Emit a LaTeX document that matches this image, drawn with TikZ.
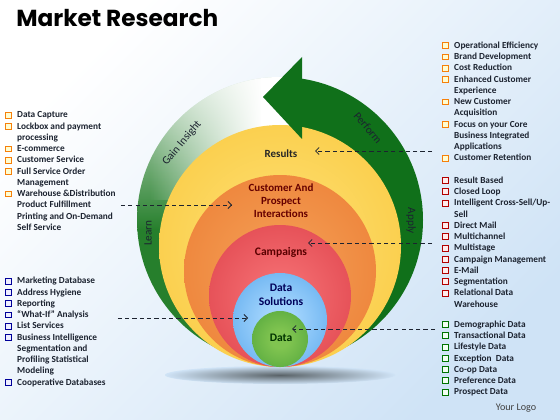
\documentclass[tikz,border=0pt]{standalone}
\usepackage{fontspec}
\setmainfont{Carlito}
\newfontfamily\titlefont{Poppins}
\usepackage{tikz}
\usetikzlibrary{arrows.meta, calc, fadings}

\definecolor{bgblue}{HTML}{CFE3F6}
\definecolor{txt}{HTML}{1C2330}
\definecolor{ringdark}{HTML}{10701A}
\definecolor{ringgreen}{HTML}{267F2C}
\definecolor{shadowc}{HTML}{5A6368}
\definecolor{yin}{HTML}{FDDC6A}\definecolor{yout}{HTML}{F7BE28}
\definecolor{oin}{HTML}{F39A50}\definecolor{oout}{HTML}{E86E26}
\definecolor{rin}{HTML}{F26A6E}\definecolor{rout}{HTML}{D52F3A}
\definecolor{bin}{HTML}{A2D4FD}\definecolor{bout}{HTML}{3894E4}
\definecolor{gin}{HTML}{80C450}\definecolor{gout}{HTML}{3A9632}
\colorlet{ballin}{white}\colorlet{ballout}{white}
\pgfdeclareradialshading[ballin,ballout]{ball}{\pgfpoint{0bp}{0bp}}{color(0bp)=(ballin); color(8bp)=(ballin); color(50bp)=(ballout)}
\tikzfading[name=ringfade, left color=transparent!100, right color=transparent!0]

% small square bullets
\newcommand\bx[2]{{\setlength{\fboxsep}{0pt}\setlength{\fboxrule}{0.4pt}\raisebox{0.1pt}{\fcolorbox{#1}{#2}{\rule{0pt}{3.8pt}\rule{3.8pt}{0pt}}}}\hspace{3.9pt}}
\newcommand\ind{\hspace*{8.5pt}}
\newcommand\bo{\bx{orange!85!brown}{yellow!18}}
\newcommand\br{\bx{red!70!black}{red!8}}
\newcommand\bg{\bx{green!45!black}{green!5}}
\newcommand\bb{\bx{blue!60!black}{blue!7}}

\begin{document}
\begin{tikzpicture}[x=0.025cm, y=-0.025cm,
  lst/.style={anchor=north west, inner sep=0pt, align=left, text=txt,
    font=\bfseries\fontsize{6.6}{8}\selectfont},
  lab/.style={inner sep=1pt, align=center, font=\bfseries\fontsize{7.8}{9.3}\selectfont},
  ringlab/.style={inner sep=0pt, text=txt, font=\fontsize{8}{9}\selectfont},
  ball/.style 2 args={/utils/exec={\colorlet{ballin}{#1}\colorlet{ballout}{#2}}, shading=ball},
  dl/.style={draw=txt, line width=0.6pt, dash pattern=on 3pt off 2.2pt,
    -{Straight Barb[length=2.5pt,width=5pt]}}]

  \useasboundingbox (0,0) rectangle (560,420);
  \shade[top color=white, bottom color=bgblue, shading angle=45] (0,0) rectangle (560,420);

  % ring behind the circles
  \begin{scope}
    \clip (280,220) circle[radius=143];
    \shade[top color=white, bottom color=ringgreen] (130,40) rectangle (302,230);
    \fill[ringgreen] (130,229) rectangle (302,370);
    \fill[white, path fading=ringfade] (150,60) rectangle (262,200);
    \fill[white] (261,60) rectangle (302,200);
    \fill[ringdark] (302,60) rectangle (430,370);
  \end{scope}
  \shade[inner color=shadowc, outer color=bgblue] (280,375) ellipse[x radius=115, y radius=9];

  \shade[ball={yin}{yout}] (280,246) circle[radius=121];
  \fill[ringdark] (302,57) -- (263,97) -- (302,139) -- cycle;
  \shade[ball={oin}{oout}] (280,271) circle[radius=96];
  \shade[ball={rin}{rout}] (280,296) circle[radius=71];
  \shade[ball={bin}{bout}] (280,320) circle[radius=47];
  \shade[ball={gin}{gout}] (280,339) circle[radius=28];

  \node[font=\titlefont\bfseries\fontsize{16.5}{19}\selectfont, anchor=west, inner sep=0pt] (title) at (16,18) {Market Research};

  \node[lab, text=black!85] (res) at (281,154) {Results};
  \node[lab, text=red!40!black] (cust) at (281,201) {Customer And\\Prospect\\Interactions};
  \node[lab, text=red!35!black, font=\bfseries\fontsize{8.2}{10}\selectfont] (camp) at (281,252) {Campaigns};
  \node[lab, text=blue!35!black, font=\bfseries\fontsize{8.2}{10}\selectfont] (dsol) at (281,295) {Data\\Solutions};
  \node[lab, text=green!20!black, font=\bfseries\fontsize{8.2}{10}\selectfont] (dat) at (281,338) {Data};

  \node[ringlab, rotate=50] (gain) at (182,143) {Gain Insight};
  \node[ringlab, rotate=-50] (perf) at (368,128) {Perform};
  \node[ringlab, rotate=-90] (apply) at (411,221) {Apply};
  \node[ringlab, rotate=90] (learn) at (148,233) {Learn};

  \node[lst] (ltop) at (5,111.5) {\bo Data Capture\\
    \bo Lockbox and payment\\ \ind processing\\
    \bo E-commerce\\ \bo Customer Service\\
    \bo Full Service Order\\ \ind Management\\
    \bo Warehouse \&Distribution\\ \ind Product Fulfillment\\
    \ind Printing and On-Demand\\ \ind Self Service};
  \node[lst] (lbot) at (5,277) {\bb Marketing Database\\ \bb Address Hygiene\\
    \bb Reporting\\ \bb ``What-If'' Analysis\\ \bb List Services\\
    \bb Business Intelligence\\ \ind Segmentation and\\
    \ind Profiling Statistical\\ \ind Modeling\\ \bb Cooperative Databases};
  \node[lst] (rtop) at (442,41.5) {\bo Operational Efficiency\\ \bo Brand Development\\
    \bo Cost Reduction\\ \bo Enhanced Customer\\ \ind Experience\\
    \bo New Customer\\ \ind Acquisition\\ \bo Focus on your Core\\
    \ind Business Integrated\\ \ind Applications\\ \bo Customer Retention};
  \node[lst] (rmid) at (442,176.5) {\br Result Based\\ \br Closed Loop\\
    \br Intelligent Cross-Sell/Up-\\ \ind Sell\\ \br Direct Mail\\
    \br Multichannel\\ \br Multistage\\ \br Campaign Management\\
    \br E-Mail\\ \br Segmentation\\ \br Relational Data\\ \ind Warehouse};
  \node[lst] (rbot) at (442,320.5) {\bg Demographic Data\\ \bg Transactional Data\\
    \bg Lifestyle Data\\ \bg Exception~ Data\\ \bg Co-op Data\\
    \bg Preference Data\\ \bg Prospect Data};
  \node[text=black!75, font=\fontsize{7.2}{8}\selectfont] (logo) at (516,408) {Your Logo};

  \coordinate (t1) at (315,151);
  \coordinate (t2) at (232,205);
  \coordinate (t3) at (308,243);
  \coordinate (t4) at (248,318);
  \coordinate (t5) at (292,329);

  \path
   ($(rtop.west |- t1)+(-10,0)$) edge[dl] (t1)
   ($(ltop.east |- t2)+(5,0)$) edge[dl] (t2)
   ($(rmid.west |- t3)+(-10,0)$) edge[dl] (t3)
   ($(lbot.east |- t4)+(12,0)$) edge[dl] (t4)
   ($(rbot.west |- t5)+(-7,0)$) edge[dl] (t5);
\end{tikzpicture}
\end{document}
